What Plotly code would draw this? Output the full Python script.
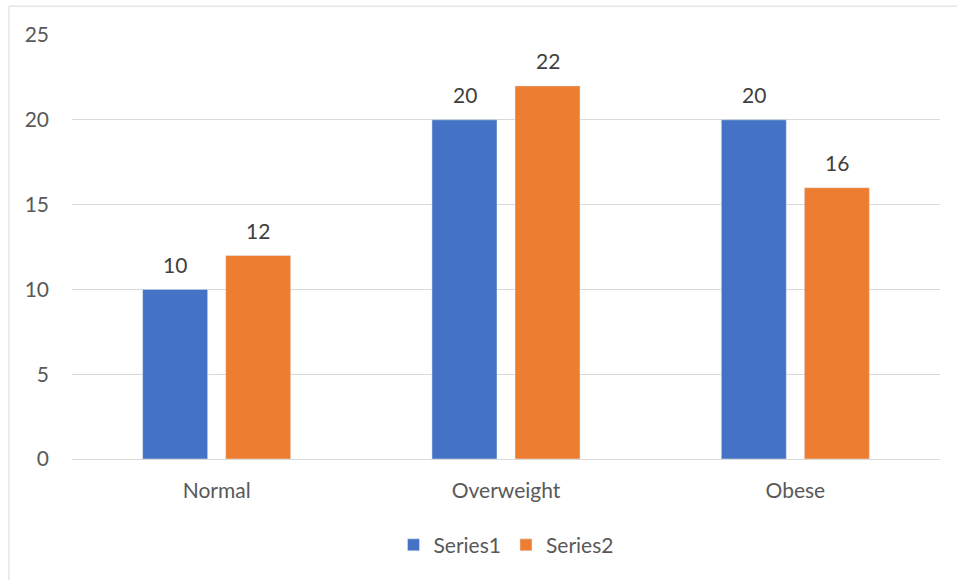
import plotly.graph_objects as go

categories = ["Normal", "Overweight", "Obese"]
series1 = [10, 20, 20]
series2 = [12, 22, 16]
y_ticks = [0, 5, 10, 15, 20, 25]

FONT = "Lato"
TXT = "#595959"
FS = 21

fig = go.Figure()
fig.add_trace(go.Bar(x=categories, y=series1, name="Series1", marker_color="#4472C4"))
fig.add_trace(go.Bar(x=categories, y=series2, name="Series2", marker_color="#ED7D31"))

annotations = []
for vals, shift in ((series1, -41.5), (series2, 41.5)):
    for c, v in zip(categories, vals):
        annotations.append(dict(x=c, y=v, xref="x", yref="y", text=str(v), showarrow=False,
                                xshift=shift, yshift=25, yanchor="middle",
                                font=dict(size=FS, color="#404040", family=FONT)))

fig.update_layout(
    width=957, height=580,
    margin=dict(l=72, r=17, t=35, b=121),
    paper_bgcolor="white", plot_bgcolor="white",
    barmode="group", bargap=0.426, bargroupgap=0.217,
    font=dict(family=FONT, size=FS, color=TXT),
    showlegend=True,
    legend=dict(orientation="h", x=0.5, xanchor="center", y=-0.155, yanchor="top",
                font=dict(size=FS, color=TXT, family=FONT), itemwidth=30,
                traceorder="normal"),
    xaxis=dict(showgrid=False, showline=False, ticks="", ticklabelstandoff=17,
               tickfont=dict(size=FS, color=TXT)),
    yaxis=dict(range=[0, 25], tickvals=y_ticks, showgrid=True, gridcolor="#D9D9D9",
               gridwidth=1, zeroline=True, zerolinecolor="#D9D9D9", zerolinewidth=1,
               showline=False, ticks="", ticklabelstandoff=22,
               tickfont=dict(size=FS, color=TXT)),
    annotations=annotations,
    shapes=[dict(type="rect", xref="paper", yref="paper", x0=-0.0726, x1=1.05,
                 y0=-0.4, y1=1.068, line=dict(color="#D9D9D9", width=1),
                 fillcolor="rgba(0,0,0,0)", layer="below")],
)

fig.write_html("out.html")
